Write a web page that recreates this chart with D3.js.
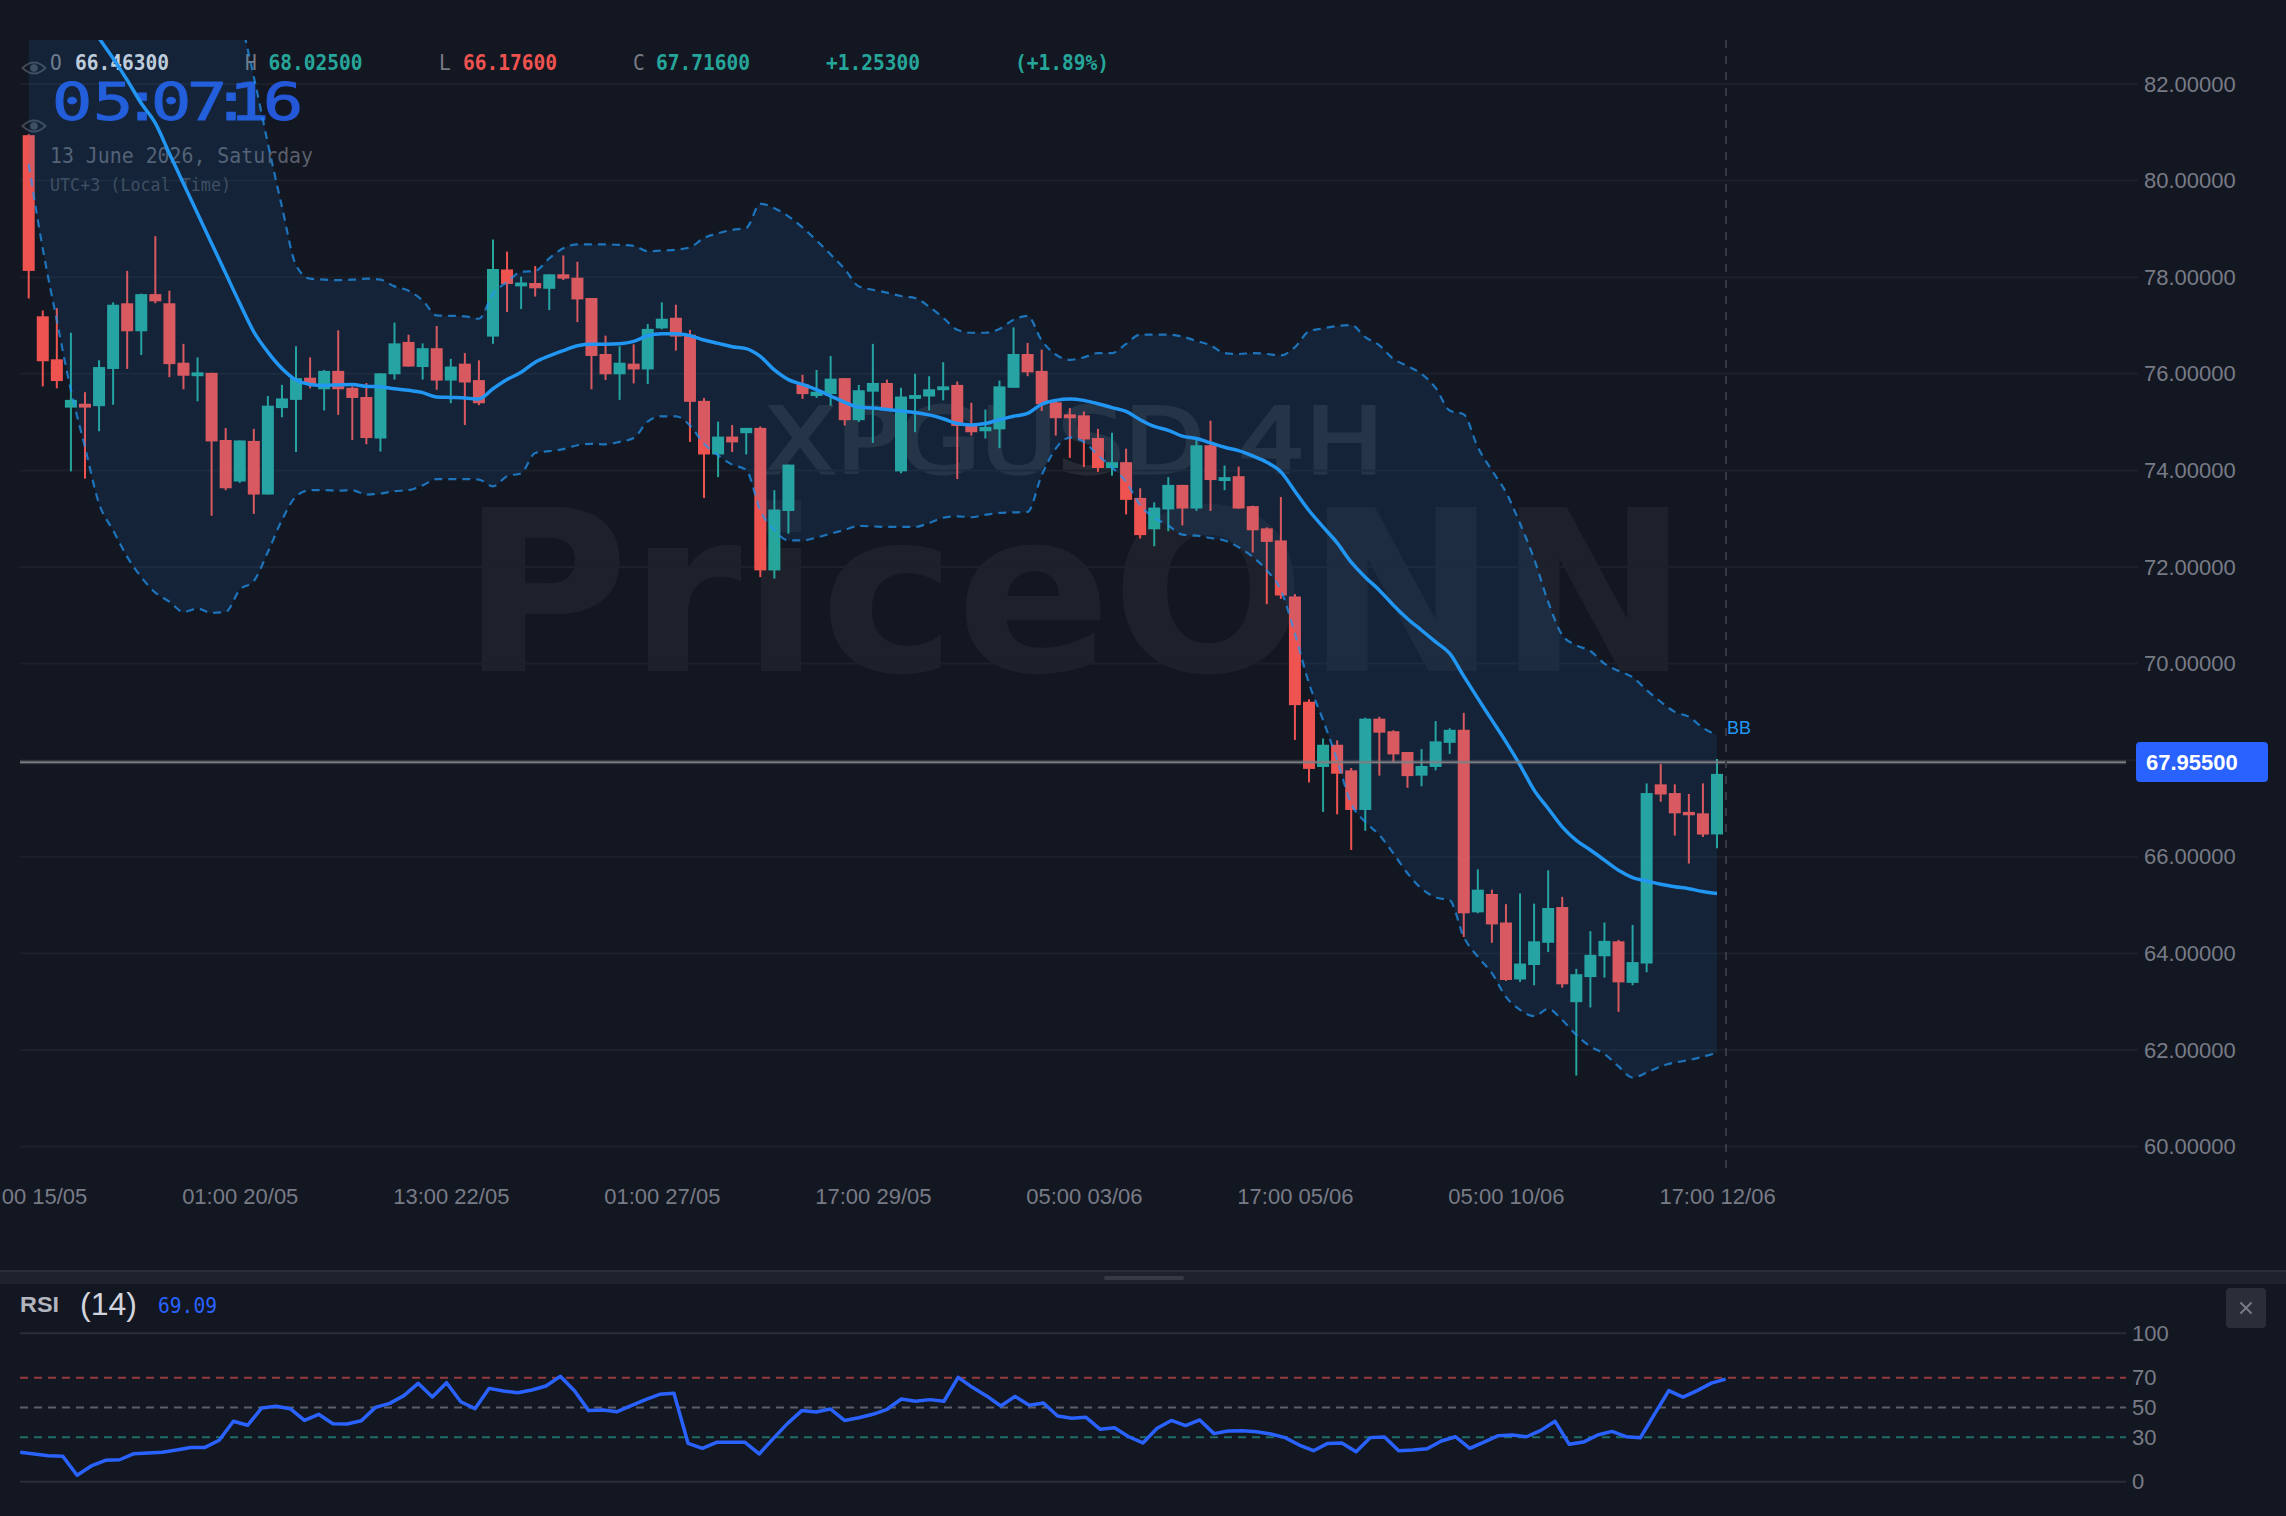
<!DOCTYPE html>
<html>
<head>
<meta charset="utf-8">
<title>XPGUSD 4H</title>
<script src="https://cdn.jsdelivr.net/npm/d3@7/dist/d3.min.js"></script>
<style>
  html, body { margin: 0; padding: 0; background: #131722; }
  svg { display: block; }
</style>
</head>
<body>
<svg id="chart" width="2286" height="1516"></svg>
<script>
// 4-hour candles
const opens = [80.94,77.19,76.30,75.30,75.38,75.33,76.10,77.46,76.88,77.65,
  77.46,76.23,75.95,76.02,74.63,73.77,74.61,73.50,75.29,75.46,
  75.92,75.68,76.06,75.71,75.52,74.66,75.99,76.66,76.14,76.53,
  75.86,76.21,75.87,76.77,78.16,77.81,77.88,77.76,78.06,77.99,
  77.57,76.41,75.99,76.21,76.09,76.94,77.16,76.81,75.44,74.33,
  74.70,74.77,74.88,71.93,73.16,75.79,75.54,75.58,75.91,75.04,
  75.63,75.81,73.98,75.48,75.53,75.66,75.77,74.92,74.81,74.85,
  75.71,76.41,76.06,75.41,75.16,75.14,74.67,74.05,74.17,73.43,
  72.78,73.19,73.70,73.21,74.52,73.78,73.88,73.26,72.80,72.55,
  71.39,69.21,67.86,68.32,67.79,66.97,68.86,68.60,68.17,67.68,
  67.86,68.36,68.63,64.85,65.23,64.64,63.46,63.76,64.22,64.96,
  62.99,63.51,63.94,64.25,63.39,63.79,67.50,67.32,66.93,66.90,66.463];
const closes = [78.13,76.26,75.85,75.46,75.30,76.14,77.43,76.88,77.65,77.50,
  76.20,75.96,76.03,74.60,73.63,74.62,73.50,75.34,75.49,75.91,
  75.79,76.06,75.68,75.50,74.67,76.01,76.63,76.15,76.53,75.86,
  76.15,75.82,75.39,78.17,77.86,77.89,77.77,78.06,77.97,77.54,
  76.37,75.99,76.23,76.09,76.93,77.14,76.77,75.42,74.33,74.70,
  74.58,74.88,71.93,73.19,74.12,75.58,75.63,75.90,75.04,75.66,
  75.81,75.27,75.53,75.56,75.68,75.74,74.92,74.79,74.90,75.74,
  76.41,76.03,75.37,75.08,75.08,74.64,74.05,74.17,73.39,72.66,
  73.23,73.70,73.21,74.52,73.80,73.86,73.21,72.76,72.52,71.41,
  69.14,67.82,68.32,67.72,66.97,68.86,68.57,68.12,67.67,67.88,
  68.39,68.63,64.83,65.32,64.60,63.45,63.79,64.25,64.94,63.36,
  63.57,63.97,64.26,63.40,63.82,67.32,67.29,66.90,66.86,66.46,67.716];
const highs = [80.96,77.31,77.36,76.85,75.62,76.28,77.48,78.13,77.66,78.85,
  77.72,76.62,76.34,76.02,74.88,74.62,74.86,75.54,75.77,76.57,
  76.34,76.08,76.90,75.74,75.81,76.01,77.06,76.81,76.63,76.99,
  76.31,76.43,76.28,78.78,78.53,78.01,78.23,78.06,78.45,78.32,
  77.57,76.79,76.57,76.61,77.03,77.48,77.43,76.91,75.50,75.01,
  74.94,74.88,74.91,73.59,74.12,75.98,76.08,76.37,75.91,75.77,
  76.62,75.88,75.71,76.00,75.95,76.24,75.84,75.40,75.26,75.86,
  76.96,76.64,76.50,75.47,75.29,75.22,74.86,74.78,74.45,73.63,
  73.34,73.86,73.70,74.63,75.03,74.10,74.08,73.27,72.82,73.45,
  71.44,69.26,68.45,68.41,67.84,68.88,68.90,68.62,68.17,68.23,
  68.81,68.66,68.98,65.74,65.32,65.02,65.24,65.03,65.72,65.17,
  63.68,64.46,64.64,64.28,64.59,67.52,67.92,67.50,67.30,67.52,68.025];
const lows = [77.56,75.74,75.70,73.98,73.83,74.81,75.36,76.10,76.39,77.46,
  75.93,75.68,75.43,73.06,73.59,73.74,73.10,73.50,75.10,74.38,
  75.70,75.24,75.15,74.63,74.54,74.39,75.88,76.15,75.88,75.67,
  75.39,74.94,75.35,76.62,77.28,77.34,77.60,77.32,77.94,77.07,
  75.68,75.87,75.46,75.80,75.79,76.92,76.48,74.59,73.43,73.86,
  74.38,74.33,71.79,71.76,72.69,75.48,75.50,75.34,74.93,75.00,
  74.57,75.24,73.94,74.79,75.24,75.45,73.82,74.72,74.66,74.46,
  75.71,75.95,75.23,74.72,74.26,74.07,73.97,73.89,73.09,72.59,
  72.43,72.74,72.86,73.16,73.16,73.59,73.21,72.30,71.23,71.34,
  68.42,67.54,66.93,66.88,66.14,66.54,67.68,67.95,67.43,67.46,
  67.79,68.13,64.34,64.83,64.22,63.43,63.41,63.34,64.03,63.29,
  61.47,62.88,63.50,62.79,63.34,63.61,67.14,66.44,65.86,66.41,66.176];

// Bollinger bands
const bbUpper = [88.9,88.7,88.5,88.3,88.0,87.7,87.4,87.1,86.8,86.4,
  86.0,85.6,85.2,84.7,84.1,83.38,82.15,80.77,79.46,78.25,
  77.97,77.95,77.94,77.95,77.97,77.95,77.81,77.72,77.52,77.21,
  77.20,77.19,77.14,77.66,77.90,78.11,78.13,78.39,78.60,78.68,
  78.68,78.68,78.67,78.65,78.54,78.55,78.57,78.62,78.81,78.91,
  78.98,79.02,79.52,79.43,79.26,79.03,78.76,78.47,78.17,77.81,
  77.74,77.68,77.61,77.57,77.39,77.16,76.91,76.85,76.85,76.93,
  77.12,77.20,76.69,76.40,76.29,76.34,76.43,76.43,76.62,76.81,
  76.81,76.81,76.77,76.68,76.59,76.43,76.41,76.43,76.41,76.38,
  76.55,76.88,76.94,76.99,77.01,76.76,76.59,76.31,76.16,76.00,
  75.71,75.24,75.16,74.48,74.00,73.55,72.90,72.17,71.28,70.59,
  70.38,70.26,70.00,69.85,69.72,69.45,69.21,69.00,68.90,68.67,68.52];
const bbMiddle = [85.1,84.7,84.3,83.9,83.4,82.95,82.53,82.08,81.60,81.19,
  80.56,79.94,79.32,78.70,78.08,77.46,76.87,76.45,76.11,75.87,
  75.78,75.76,75.77,75.78,75.74,75.73,75.69,75.66,75.61,75.52,
  75.51,75.50,75.48,75.69,75.88,76.03,76.24,76.37,76.48,76.58,
  76.61,76.61,76.62,76.67,76.79,76.83,76.83,76.79,76.70,76.63,
  76.56,76.52,76.36,76.08,75.88,75.78,75.67,75.54,75.41,75.31,
  75.29,75.26,75.23,75.20,75.15,75.07,74.97,74.94,74.97,75.05,
  75.12,75.18,75.37,75.45,75.48,75.45,75.38,75.30,75.22,75.05,
  74.91,74.83,74.71,74.66,74.57,74.48,74.41,74.30,74.17,73.97,
  73.57,73.17,72.83,72.50,72.10,71.79,71.52,71.21,70.93,70.69,
  70.45,70.21,69.74,69.28,68.83,68.38,67.90,67.38,67.00,66.62,
  66.34,66.14,65.93,65.72,65.57,65.50,65.43,65.38,65.34,65.28,65.24];
const bbLower = [80.34,78.59,77.10,75.66,74.48,73.31,72.76,72.21,71.79,71.47,
  71.28,71.07,71.14,71.05,71.07,71.53,71.71,72.31,72.97,73.46,
  73.59,73.59,73.58,73.59,73.50,73.52,73.57,73.59,73.69,73.82,
  73.82,73.82,73.81,73.67,73.88,73.94,74.36,74.40,74.44,74.52,
  74.55,74.54,74.59,74.67,75.01,75.12,75.12,74.93,74.55,74.31,
  74.12,74.01,73.17,72.76,72.55,72.55,72.61,72.69,72.77,72.85,
  72.84,72.83,72.83,72.83,72.91,73.02,73.05,73.03,73.08,73.12,
  73.13,73.14,73.90,74.45,74.68,74.59,74.31,74.06,73.76,73.28,
  73.02,72.86,72.67,72.65,72.60,72.55,72.41,72.21,71.93,71.52,
  70.62,69.59,68.83,68.00,67.10,66.72,66.45,66.07,65.66,65.34,
  65.16,65.10,64.34,63.93,63.59,63.10,62.83,62.70,62.85,62.62,
  62.31,62.07,61.92,61.66,61.43,61.53,61.66,61.74,61.79,61.86,61.94];

// RSI (14)
const rsiValues = [19.8,18.7,17.5,17.1,4.3,10.6,14.4,14.8,18.9,19.3,
  19.8,21.3,23.1,23.1,27.9,40.7,38.0,49.7,50.8,49.2,
  41.3,45.4,39.1,38.9,41.1,50.1,52.8,58.0,66.3,57.1,
  66.7,53.9,49.2,62.9,61.1,60.0,61.8,64.5,71.0,61.3,
  47.9,48.3,47.2,51.2,55.3,58.9,59.6,25.8,22.5,26.5,
  26.5,26.5,18.7,29.2,39.3,47.9,47.0,49.0,41.3,43.1,
  45.4,48.8,55.7,54.2,55.3,54.2,70.3,63.6,57.8,51.0,
  57.5,51.5,53.0,44.3,42.7,43.4,35.3,36.4,30.3,26.1,
  36.0,41.3,37.8,41.6,32.4,34.2,34.4,33.7,32.1,29.7,
  24.7,20.9,25.8,26.1,20.2,29.7,30.1,20.9,21.3,22.2,
  27.4,30.3,22.5,26.7,31.0,31.5,30.3,34.6,40.7,25.2,
  26.7,31.5,33.9,30.3,29.6,45.5,61.4,57.0,61.4,66.4,69.09];

const priceTicks = [60,62,64,66,70,72,74,76,78,80,82];
const gridTicks = [60,62,64,66,68,70,72,74,76,78,80,82];
const timeTickIndex = [0,15,30,45,60,75,90,105,120];
const timeTickLabels = ["17:00 15/05","01:00 20/05","13:00 22/05","01:00 27/05","17:00 29/05","05:00 03/06","17:00 05/06","05:00 10/06","17:00 12/06"];
const rsiTicks = [0,30,50,70,100];
const lastPrice = 67.955;

const colors = {
  bg: "#131722", grid: "#1c202b", up: "#26a69a", down: "#ef5350",
  bb: "#2196f3", axis: "#787b86", rsi: "#2962ff", border: "#2a2e39", panel: "#1e222d"
};

const svg = d3.select("#chart");
svg.append("rect").attr("width", 2286).attr("height", 1516).attr("fill", colors.bg);

const defs = svg.append("defs");
defs.append("clipPath").attr("id", "pricePane").append("rect")
  .attr("x", 20).attr("y", 40).attr("width", 2106).attr("height", 1126);
defs.append("clipPath").attr("id", "rsiPane").append("rect")
  .attr("x", 20).attr("y", 1320).attr("width", 2106).attr("height", 180);

const indices = d3.range(opens.length);
const x = d3.scaleLinear().domain([0, 120]).range([28.7, 1717]);
const y = d3.scaleLinear().domain([60, 82]).range([1146.6, 84]);
const rsiX = d3.scaleLinear().domain([0, 120]).range([20.2, 1725.6]);
const rsiY = d3.scaleLinear().domain([0, 100]).range([1481.7, 1333.3]);

const sans = "'Liberation Sans', Arial, sans-serif";
const mono = "'DejaVu Sans Mono', monospace";

// Watermarks sit under everything else
const marks = svg.append("g").attr("font-family", "'DejaVu Sans', sans-serif");
marks.append("text").text("PriceONN")
  .attr("x", 461).attr("y", 671).attr("font-size", 224).attr("font-weight", 700)
  .attr("textLength", 1228).attr("lengthAdjust", "spacingAndGlyphs")
  .attr("fill", "#ffffff").attr("opacity", 0.045);
marks.append("text").text("XPGUSD 4H")
  .attr("x", 764).attr("y", 473).attr("font-size", 90).attr("font-weight", 400)
  .attr("textLength", 620).attr("lengthAdjust", "spacingAndGlyphs")
  .attr("fill", "#ffffff").attr("stroke", "#ffffff").attr("stroke-width", 3).attr("opacity", 0.08);

// Grid
svg.append("g").selectAll("line").data(gridTicks).join("line")
  .attr("x1", 20).attr("x2", 2138)
  .attr("y1", d => y(d)).attr("y2", d => y(d))
  .attr("stroke", colors.grid).attr("stroke-width", 2);

// Instrument legend and clock
const legend = svg.append("g").attr("font-family", mono).attr("font-size", 20.5);
const legendItems = [
  { t: "O", xp: 50, c: "#787b86" }, { t: "66.46300", xp: 75, c: "#d1d4dc", w: 700 },
  { t: "H", xp: 245, c: "#787b86" }, { t: "68.02500", xp: 268.5, c: colors.up, w: 700 },
  { t: "L", xp: 439, c: "#787b86" }, { t: "66.17600", xp: 463, c: colors.down, w: 700 },
  { t: "C", xp: 633, c: "#787b86" }, { t: "67.71600", xp: 656, c: colors.up, w: 700 },
  { t: "+1.25300", xp: 826, c: colors.up, w: 700 }, { t: "(+1.89%)", xp: 1015, c: colors.up, w: 700 }
];
legend.selectAll("text").data(legendItems).join("text")
  .text(d => d.t).attr("x", d => d.xp).attr("y", 70)
  .attr("textLength", d => d.t.length * 11.75).attr("lengthAdjust", "spacingAndGlyphs")
  .attr("fill", d => d.c).attr("font-weight", d => d.w || 400);

// Clock glyphs are widened and set at individual centres
const clockScale = 1.3;
const clockCentres = [72, 113, 142, 171, 207, 231, 249, 283];
svg.append("text").text("05:07:16")
  .attr("transform", `translate(0,120) scale(${clockScale},1)`)
  .attr("x", clockCentres.map(c => (c / clockScale - 15.65).toFixed(2)).join(" "))
  .attr("y", 0).attr("font-family", mono).attr("font-size", 52)
  .attr("fill", "#2458d8").attr("stroke", "#2458d8").attr("stroke-width", 0.9);
svg.append("text").text("13 June 2026, Saturday")
  .attr("x", 50).attr("y", 163).attr("font-family", mono).attr("font-size", 20.5)
  .attr("textLength", 263).attr("lengthAdjust", "spacingAndGlyphs").attr("fill", "#5a5e6a");
svg.append("text").text("UTC+3 (Local Time)")
  .attr("x", 50).attr("y", 191).attr("font-family", mono).attr("font-size", 17.5)
  .attr("textLength", 181).attr("lengthAdjust", "spacingAndGlyphs").attr("fill", "#434854");

// Visibility toggles beside the legend rows
[68, 126].forEach(cy => {
  const eye = svg.append("g").attr("transform", `translate(34,${cy})`);
  eye.append("path").attr("d", "M-11.5,0 Q0,-11 11.5,0 Q0,11 -11.5,0 Z")
    .attr("fill", "none").attr("stroke", "#434854").attr("stroke-width", 1.8);
  eye.append("circle").attr("r", 3.8).attr("fill", "#434854");
});

// Candles
const pane = svg.append("g").attr("clip-path", "url(#pricePane)");
const candleColor = i => closes[i] >= opens[i] ? colors.up : colors.down;
const candles = pane.append("g").selectAll("g").data(indices).join("g");
candles.append("line")
  .attr("x1", i => x(i)).attr("x2", i => x(i))
  .attr("y1", i => y(highs[i])).attr("y2", i => y(lows[i]))
  .attr("stroke", candleColor).attr("stroke-width", 2);
candles.append("rect")
  .attr("x", i => x(i) - 6).attr("width", 12)
  .attr("y", i => y(Math.max(opens[i], closes[i])))
  .attr("height", i => Math.max(2, Math.abs(y(opens[i]) - y(closes[i]))))
  .attr("fill", candleColor);

// Band fill tints the candles beneath it
pane.append("path").datum(indices)
  .attr("d", d3.area().curve(d3.curveMonotoneX).x(i => x(i))
    .y0(i => y(bbLower[i])).y1(i => y(bbUpper[i])))
  .attr("fill", "rgba(33,150,243,0.1)");

const bbLine = series => d3.line().curve(d3.curveMonotoneX).x(i => x(i)).y(i => y(series[i]));
[bbUpper, bbLower].forEach(series => {
  pane.append("path").datum(indices).attr("d", bbLine(series))
    .attr("fill", "none").attr("stroke", colors.bb).attr("stroke-opacity", 0.72)
    .attr("stroke-width", 2.2).attr("stroke-dasharray", "8 6");
});
pane.append("path").datum(indices).attr("d", bbLine(bbMiddle))
  .attr("fill", "none").attr("stroke", colors.bb).attr("stroke-width", 3.5);

// Last price line and crosshair
svg.append("line").attr("x1", 20).attr("x2", 2126)
  .attr("y1", y(lastPrice)).attr("y2", y(lastPrice))
  .attr("stroke", "#7f8084").attr("stroke-opacity", 0.35).attr("stroke-width", 4);
svg.append("line").attr("x1", 20).attr("x2", 2126)
  .attr("y1", y(lastPrice)).attr("y2", y(lastPrice))
  .attr("stroke", "#7f8084").attr("stroke-width", 1.5);
svg.append("line").attr("x1", 1726).attr("x2", 1726).attr("y1", 40).attr("y2", 1168)
  .attr("stroke", "#363a45").attr("stroke-width", 2).attr("stroke-dasharray", "8 8");

svg.append("text").text("BB").attr("x", 1727).attr("y", 734)
  .attr("font-family", sans).attr("font-size", 18).attr("fill", colors.bb);

// Price axis
const yAxis = svg.append("g").attr("transform", "translate(2144,0)")
  .call(d3.axisRight(y).tickValues(priceTicks).tickSize(0).tickPadding(0).tickFormat(d3.format(".5f")));
yAxis.select(".domain").remove();
yAxis.selectAll("text").attr("font-family", sans).attr("font-size", 22).attr("fill", colors.axis);

svg.append("rect").attr("x", 2136).attr("y", 742).attr("width", 132).attr("height", 40).attr("rx", 4).attr("fill", colors.rsi);
svg.append("text").text(d3.format(".5f")(lastPrice)).attr("x", 2146).attr("y", y(lastPrice) + 8)
  .attr("font-family", sans).attr("font-size", 22).attr("font-weight", 700).attr("fill", "#ffffff");

// Time axis
const xAxis = svg.append("g").attr("transform", "translate(0,1197)")
  .call(d3.axisBottom(x).tickValues(timeTickIndex).tickSize(0).tickPadding(0)
    .tickFormat((d, i) => timeTickLabels[i]));
xAxis.select(".domain").remove();
xAxis.selectAll("text").attr("font-family", sans).attr("font-size", 22).attr("fill", colors.axis)
  .attr("dy", "0.34em").attr("y", 0);

// Pane separator
svg.append("rect").attr("x", 0).attr("y", 1270).attr("width", 2286).attr("height", 14).attr("fill", colors.panel);
svg.append("rect").attr("x", 0).attr("y", 1270).attr("width", 2286).attr("height", 2).attr("fill", colors.border);
svg.append("rect").attr("x", 1104).attr("y", 1276).attr("width", 80).attr("height", 4).attr("rx", 2).attr("fill", "#363a45");

// RSI header
svg.append("text").text("RSI").attr("x", 20).attr("y", 1312)
  .attr("font-family", sans).attr("font-size", 22).attr("font-weight", 700)
  .attr("textLength", 39).attr("lengthAdjust", "spacingAndGlyphs").attr("fill", "#b2b5be");
svg.append("text").text("(14)").attr("x", 80).attr("y", 1315)
  .attr("font-family", sans).attr("font-size", 32).attr("fill", "#d1d4dc");
svg.append("text").text("69.09").attr("x", 158).attr("y", 1313)
  .attr("font-family", mono).attr("font-size", 20.5)
  .attr("textLength", 59).attr("lengthAdjust", "spacingAndGlyphs").attr("fill", colors.rsi);

// Close button
svg.append("rect").attr("x", 2226).attr("y", 1288).attr("width", 40).attr("height", 40).attr("rx", 4).attr("fill", colors.border);
svg.append("path").attr("d", "M2240.5,1302.5 L2251.5,1313.5 M2251.5,1302.5 L2240.5,1313.5")
  .attr("stroke", colors.axis).attr("stroke-width", 2);

// RSI levels and line
const rsiLevelStyle = { 100: [colors.border, null], 70: ["rgba(239,83,80,0.6)", "8 6"], 50: ["#5d606b", "8 6"], 30: ["rgba(38,166,154,0.6)", "8 6"], 0: [colors.border, null] };
svg.append("g").selectAll("line").data(rsiTicks).join("line")
  .attr("x1", 20).attr("x2", 2126)
  .attr("y1", d => rsiY(d)).attr("y2", d => rsiY(d))
  .attr("stroke", d => rsiLevelStyle[d][0]).attr("stroke-width", 2)
  .attr("stroke-dasharray", d => rsiLevelStyle[d][1]);
svg.append("path").datum(indices)
  .attr("clip-path", "url(#rsiPane)")
  .attr("d", d3.line().x(i => rsiX(i)).y(i => rsiY(rsiValues[i])))
  .attr("fill", "none").attr("stroke", colors.rsi).attr("stroke-width", 3.5).attr("stroke-linejoin", "round");

const rsiAxis = svg.append("g").attr("transform", "translate(2132,0)")
  .call(d3.axisRight(rsiY).tickValues(rsiTicks).tickSize(0).tickPadding(0));
rsiAxis.select(".domain").remove();
rsiAxis.selectAll("text").attr("font-family", sans).attr("font-size", 22).attr("fill", colors.axis);
</script>
</body>
</html>
